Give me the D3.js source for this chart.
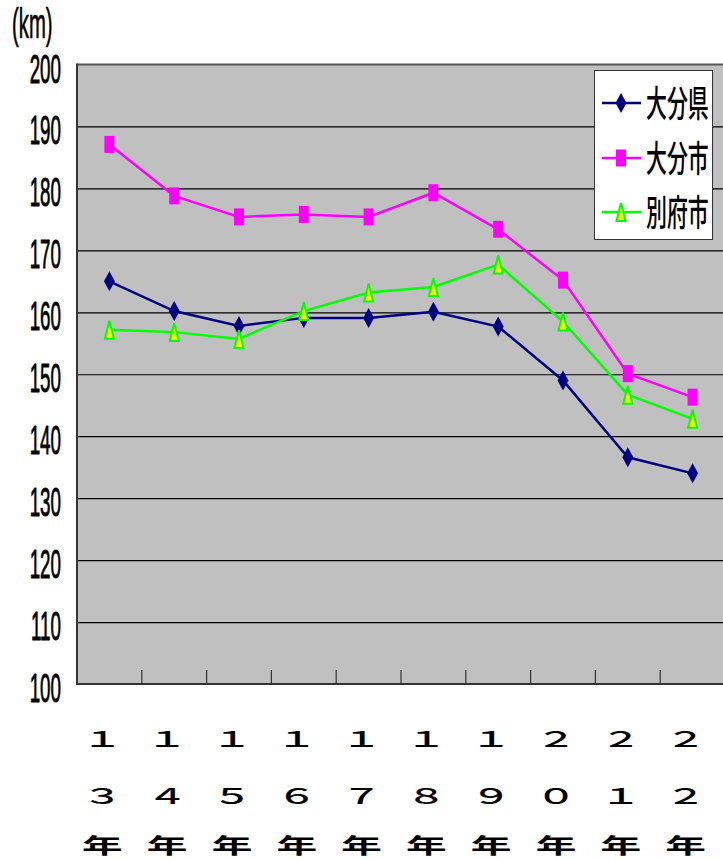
<!DOCTYPE html>
<html><head><meta charset="utf-8">
<script src="https://cdn.jsdelivr.net/npm/d3@7"></script>
<style>
html,body{margin:0;padding:0;background:#fff;}
svg{display:block;}
</style></head>
<body>
<script>
// ---- data ----
const categories = ["13年","14年","15年","16年","17年","18年","19年","20年","21年","22年"];
const labelRow1 = ["１","１","１","１","１","１","１","２","２","２"];
const labelRow2 = ["３","４","５","６","７","８","９","０","１","２"];
const labelRow3 = ["年","年","年","年","年","年","年","年","年","年"];
const oitaPref = [165.0,160.2,157.8,159.1,159.1,160.1,157.7,149.0,136.6,134.0];
const oitaCity = [187.1,178.8,175.4,175.8,175.4,179.3,173.4,165.2,150.1,146.3];
const beppuCity = [157.2,156.8,155.7,160.2,163.2,164.1,167.7,158.5,146.7,142.8];
const seriesNames = ["大分県","大分市","別府市"];
const yTicks = [100,110,120,130,140,150,160,170,180,190,200];
const yUnit = "(km)";

const W = 723, H = 859;
const svg = d3.select("body").append("svg").attr("width", W).attr("height", H);

const pLeft = 77, pRight = 725, pTop = 64.5, pBottom = 684;
const x = d3.scaleBand().domain(categories).range([pLeft, pRight]);
const y = d3.scaleLinear().domain([100, 200]).range([pBottom, pTop]);
const cx = c => x(c) + x.bandwidth() / 2;

// plot background
svg.append("rect").attr("x", pLeft).attr("y", pTop).attr("width", pRight - pLeft).attr("height", pBottom - pTop)
  .attr("fill", "#c0c0c0");

// gridlines via axis
const gridAxis = d3.axisLeft(y).tickValues(yTicks.filter(v => v > 100 && v < 200)).tickSize(-(pRight - pLeft)).tickFormat("");
const g = svg.append("g").attr("transform", `translate(${pLeft},0)`).call(gridAxis);
g.select(".domain").remove();
g.selectAll(".tick line").attr("stroke", "#000").attr("stroke-width", 1.2);

// frame
svg.append("line").attr("x1", pLeft).attr("x2", pRight).attr("y1", pTop).attr("y2", pTop).attr("stroke", "#555").attr("stroke-width", 2);
svg.append("line").attr("x1", pLeft).attr("x2", pLeft).attr("y1", pTop - 1).attr("y2", pBottom + 1).attr("stroke", "#333").attr("stroke-width", 2);
svg.append("line").attr("x1", pLeft).attr("x2", pRight).attr("y1", pBottom).attr("y2", pBottom).attr("stroke", "#333").attr("stroke-width", 2);

// x ticks at band boundaries (inside)
const bounds = categories.slice(1).map(c => x(c));
svg.selectAll(".xt").data(bounds).enter().append("line")
  .attr("x1", d => d).attr("x2", d => d).attr("y1", pBottom).attr("y2", pBottom - 14)
  .attr("stroke", "#333").attr("stroke-width", 1.2);

// y labels (condensed, tall)
svg.selectAll(".yl").data(yTicks).enter().append("text")
  .attr("transform", d => `translate(61,${y(d) + 18}) scale(0.8,1.75)`)
  .attr("text-anchor", "end")
  .attr("font-family", "'Liberation Sans',sans-serif")
  .attr("font-size", 23.5).attr("fill", "#000")
  .attr("stroke", "#000").attr("stroke-width", 0.5)
  .text(d => d);

svg.append("text").attr("transform", "translate(12,38) scale(0.78,1.6)")
  .attr("font-family", "'Liberation Sans',sans-serif")
  .attr("font-size", 26).attr("fill", "#000")
  .attr("stroke", "#000").attr("stroke-width", 0.4).text(yUnit);

// x labels (stacked, wide)
const rows = [[labelRow1, 747, 500], [labelRow2, 804, 500], [labelRow3, 853, "bold"]];
rows.forEach(([arr, by, fw]) => {
  svg.append("g").selectAll("text").data(categories).enter().append("text")
    .attr("transform", (c, i) => `translate(${cx(c) - 7},${by}) scale(1.85,0.95)`)
    .attr("text-anchor", "middle")
    .attr("font-family", "'Noto Sans CJK JP',sans-serif")
    .attr("font-weight", fw)
    .attr("font-size", 22).attr("fill", "#000")
    .text((c, i) => arr[i]);
});

// series
const series = [
  {name: seriesNames[0], values: oitaPref, color: "#000080", marker: "diamond"},
  {name: seriesNames[1], values: oitaCity, color: "#ff00ff", marker: "square"},
  {name: seriesNames[2], values: beppuCity, color: "#00ff00", marker: "triangle"}
];
const line = d3.line().x((d, i) => cx(categories[i])).y(d => y(d));

function drawMarker(sel, type, color) {
  if (type === "diamond") {
    sel.append("path").attr("d", "M0,-10L5.5,0L0,10L-5.5,0Z").attr("fill", color);
  } else if (type === "square") {
    sel.append("rect").attr("x", -5).attr("y", -8.5).attr("width", 10).attr("height", 17).attr("fill", color);
  } else {
    sel.append("path").attr("d", "M0,-9L4.5,9L-4.5,9Z").attr("fill", "#ffff00")
      .attr("stroke", color).attr("stroke-width", 2).attr("stroke-linejoin", "miter");
  }
}

series.forEach(s => {
  svg.append("path").datum(s.values).attr("d", line).attr("fill", "none")
    .attr("stroke", s.color).attr("stroke-width", 2.5);
});
series.forEach(s => {
  svg.append("g").selectAll("g").data(s.values).enter().append("g")
    .attr("transform", (d, i) => `translate(${cx(categories[i])},${y(d)})`)
    .each(function () { drawMarker(d3.select(this), s.marker, s.color); });
});

// legend
const lg = svg.append("g");
lg.append("rect").attr("x", 594.5).attr("y", 70.5).attr("width", 118).attr("height", 169)
  .attr("fill", "#fff").attr("stroke", "#333").attr("stroke-width", 1);
const legY = [103, 158, 212];
series.forEach((s, i) => {
  lg.append("line").attr("x1", 602).attr("x2", 641).attr("y1", legY[i]).attr("y2", legY[i])
    .attr("stroke", s.color).attr("stroke-width", 2.5);
  const m = lg.append("g").attr("transform", `translate(621,${legY[i]})`);
  drawMarker(m, s.marker, s.color);
  lg.append("text").attr("transform", `translate(646,${legY[i] + 14}) scale(0.95,1.65)`)
    .attr("font-family", "'Noto Sans CJK JP',sans-serif").attr("font-weight", 500)
    .attr("font-size", 22).attr("fill", "#000").text(s.name);
});
</script>
</body></html>
